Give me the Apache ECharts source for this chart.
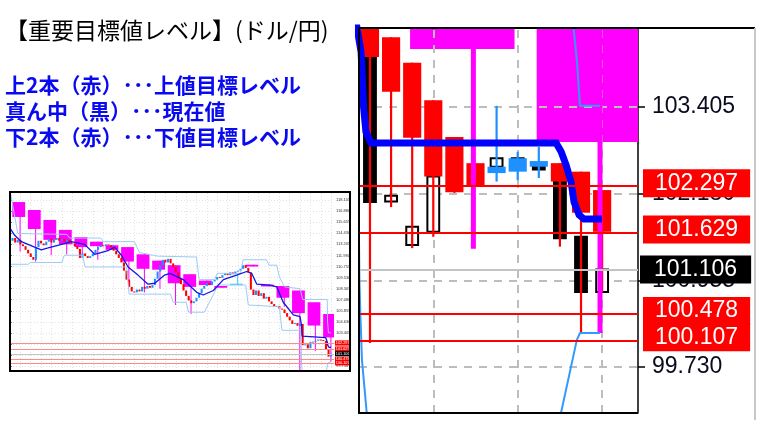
<!DOCTYPE html>
<html><head><meta charset="utf-8">
<script src="https://cdn.jsdelivr.net/npm/echarts@6/dist/echarts.min.js"></script>
<style>html,body{margin:0;padding:0;background:#fff}#c{width:763px;height:426px}</style>
</head><body><div id="c"></div>
<script>
// ---------------- data ----------------
const titleText = '【重要目標値レベル】(ドル/円)';
const noteLines = ['上2本（赤）･･･上値目標レベル', '真ん中（黒）･･･現在値', '下2本（赤）･･･下値目標レベル'];

const axisTicks = [118.105, 116.880, 115.655, 114.430, 113.205, 111.980, 110.755, 109.530,
  108.305, 107.080, 105.855, 104.630, 103.405, 102.180, 100.955, 99.730];
const upperTargets = [102.297, 101.629];
const currentPrice = 101.106;
const lowerTargets = [100.478, 100.107];

// overview chart: closing prices, bar index 0..124
const closes = [
  113.6, 113.9, 113.4, 113.7, 113.2, 113.0, 112.6, 112.2, 111.8, 111.5,
  112.9, 113.6, 113.3, 113.1, 113.5, 113.8, 113.4, 113.7, 113.9, 113.6,
  113.8, 113.5, 113.7, 113.4, 113.3, 113.0, 112.7, 111.7, 112.2, 111.9,
  111.7, 111.9, 112.2, 112.6, 112.9, 113.1, 113.0, 113.2, 113.1, 112.9,
  112.5, 112.1, 111.7, 111.2, 110.3, 109.3, 108.5, 108.0, 107.9, 108.2,
  108.0, 108.5, 108.3, 108.6, 108.4, 108.7, 109.4, 110.2, 110.9, 111.5,
  111.2, 111.6, 111.1, 110.7, 110.1, 109.4, 108.8, 108.1, 107.5, 107.0,
  106.7, 106.9, 107.3, 107.8, 108.3, 108.6, 108.9, 108.7, 109.1, 109.3,
  109.6, 109.5, 109.8, 110.0, 109.8, 110.1, 109.9, 110.2, 110.3, 110.5,
  110.9, 110.6, 110.1, 108.2, 107.6, 108.1, 107.5, 107.8, 107.2, 107.4,
  106.9, 106.6, 106.3, 106.4, 106.1, 106.0, 105.6, 105.2, 104.8, 104.4,
  104.5, 104.2, 104.4,
  102.06, 102.15, 101.71, 102.42, 102.45, 102.55, 102.68, 102.63, 102.52, 101.55, 100.79, 101.106
];

// zoomed chart: last 12 bars (index 113..124)
const zoomIndex = [113, 114, 115, 116, 117, 118, 119, 120, 121, 122, 123, 124];
const realOpen  = [104.80, 102.07, 101.455, 101.64, 102.42, 102.45, 102.56, 102.68, 102.59, 102.37, 101.57, 100.79];
const realClose = [102.06, 102.15, 101.71, 102.42, 102.45, 102.55, 102.68, 102.63, 102.52, 101.55, 100.79, 101.106];
const haOpen  = [104.80, 104.39, 104.03, 103.50, 102.98, 102.61, 102.47, 102.49, 102.56, 102.61, 102.49, 102.23];
const haClose = [104.11, 103.62, 102.97, 102.42, 102.20, 102.30, 102.56, 102.68, 102.64, 102.35, 101.91, 101.64];
const haHigh  = [104.80, 104.39, 104.03, 103.50, 102.98, 102.61, 103.42, 102.77, 102.84, 102.61, 102.49, 102.23];
const haLow   = [100.07, 101.99, 101.41, 101.57, 102.19, 102.30, 102.35, 102.37, 102.40, 101.43, 100.21, 100.79];

// daily bars (magenta boxes), start bar index
const dayStart = [1, 7, 13, 19, 25, 31, 37, 43, 49, 55, 61, 67, 73, 79, 85, 91, 97, 103, 109, 115, 121];
const dayOpen  = [117.88, 117.0, 115.9, 114.8, 114.0, 113.5, 113.1, 112.9, 112.1, 111.4, 110.9, 109.9, 109.2, 108.6, 108.80, 110.95, 108.75, 108.6, 108.1, 106.8, 105.5];
const dayClose = [116.23, 114.9, 113.7, 113.2, 112.9, 113.0, 112.6, 111.3, 110.5, 110.4, 108.9, 108.5, 108.7, 108.4, 108.85, 110.75, 108.55, 107.3, 105.6, 104.225, 102.91];
const dayHigh  = [117.88, 117.0, 115.9, 114.8, 114.0, 113.5, 113.1, 112.9, 112.1, 111.4, 110.9, 109.9, 109.2, 108.6, 109.8, 110.95, 108.75, 108.6, 108.1, 106.8, 105.5];
const dayLow   = [112.4, 111.3, 112.0, 112.1, 111.8, 111.5, 112.6, 109.05, 107.9, 108.3, 106.5, 105.5, 108.7, 108.4, 108.7, 110.75, 108.55, 106.3, 98.9, 101.40, 100.21];

// bands and moving average: [bar index, price]
const upperBand = [[0, 119.2], [3, 114.4], [22, 114.3], [23, 113.9], [35, 113.9], [36, 113.5], [48, 113.5],
  [50, 112.3], [57, 111.9], [72, 111.8], [73, 109.3], [79, 109.3], [80, 110.0], [89, 110.0], [90, 111.5],
  [99, 111.5], [100, 110.9], [103, 110.9], [104, 109.6], [106, 108.5], [112, 108.3], [113, 107.1],
  [122.5, 107.1], [122.62, 104.6], [122.81, 104.04], [122.95, 103.42], [123.9, 103.42]];
const lowerBand = [[0, 111.0], [7, 111.0], [8, 111.2], [20, 111.2], [21, 112.0], [28, 112.0], [29, 110.7],
  [45, 110.7], [46, 107.7], [62, 107.7], [63, 106.8], [68, 106.8], [69, 105.7], [75, 105.7], [79, 107.9],
  [80, 108.7], [91, 108.7], [92, 106.5], [104, 106.3], [105, 103.7], [112.4, 103.7], [112.5, 100.96],
  [112.55, 100.44], [112.62, 99.83], [112.9, 98.9], [113.2, 97.5], [121.5, 97.5], [122.05, 99.08],
  [122.8, 100.11], [122.95, 100.21], [123.9, 100.21]];
const avgLine = [[0, 115.0], [1.8, 114.2], [4.4, 113.5], [9.5, 112.9], [12.1, 112.6], [14.7, 112.8],
  [18.5, 113.1], [23.7, 113.5], [28.8, 113.2], [32.7, 112.1], [37.8, 112.5], [40.4, 112.9], [43, 112.0],
  [45.6, 110.7], [49.4, 109.8], [53.3, 108.8], [55.9, 108.9], [59.7, 109.8], [61.8, 110.0], [66.9, 109.3],
  [72.1, 107.9], [74.6, 107.6], [78.5, 108.1], [82.4, 109.3], [87.5, 109.8], [91.4, 110.2], [93.3, 110.0],
  [95.3, 108.8], [100.4, 108.7], [103, 108.5], [105.5, 106.8], [109.4, 105.4], [112, 105.2],
  [112.58, 104.18], [112.7, 103.39], [112.81, 103.05], [113.05, 102.896], [121.82, 102.896],
  [122.06, 102.77], [122.29, 102.585], [122.53, 102.345], [122.67, 102.06], [122.91, 101.88],
  [123.14, 101.82], [123.99, 101.82]];

// ---------------- build ----------------
const smallBars = closes.map((c, i) => {
  const o = i === 0 ? c : closes[i - 1];
  return [i, o, c, Math.max(o, c), Math.min(o, c)];
});
const realBars = zoomIndex.map((x, i) => [x, realOpen[i], realClose[i], Math.max(realOpen[i], realClose[i]), Math.min(realOpen[i], realClose[i])]);
const haBars = zoomIndex.map((x, i) => [x, haOpen[i], haClose[i], haHigh[i], haLow[i]]);
const dayBars = dayStart.map((s, i) => [s, dayOpen[i], dayClose[i], dayHigh[i], dayLow[i]]);

function makeCandle(cfg) {
  return function (params, api) {
    const x = api.value(0), o = api.value(1), c = api.value(2), h = api.value(3), l = api.value(4);
    const pO = api.coord([x, o]), pC = api.coord([x, c]), pH = api.coord([x, h]), pL = api.coord([x, l]);
    const w = api.size([cfg.width, 0])[0];
    const up = c >= o;
    const top = Math.min(pO[1], pC[1]);
    const hgt = Math.max(Math.abs(pO[1] - pC[1]), cfg.minH);
    const kids = [];
    if (cfg.wickW > 0 && pL[1] - pH[1] > 0.5) {
      kids.push({ type: 'line', shape: { x1: pO[0], y1: pH[1], x2: pO[0], y2: pL[1] },
        style: { stroke: up ? cfg.upWick : cfg.downWick, lineWidth: cfg.wickW } });
    }
    kids.push({ type: 'rect', shape: { x: pO[0] - w / 2, y: top, width: w, height: hgt },
      style: { fill: up ? cfg.upFill : cfg.downFill, stroke: up ? cfg.upStroke : cfg.downStroke, lineWidth: cfg.strokeW } });
    return { type: 'group', children: kids };
  };
}
function makeBox(cfg) {
  return function (params, api) {
    const s = api.value(0), o = api.value(1), c = api.value(2), h = api.value(3), l = api.value(4);
    const x0 = api.coord([s - 0.1, o])[0], x1 = api.coord([s + 4.85, o])[0], xw = api.coord([s + 2.9, o])[0];
    const yO = api.coord([s, o])[1], yC = api.coord([s, c])[1], yH = api.coord([s, h])[1], yL = api.coord([s, l])[1];
    const col = c < o ? cfg.down : cfg.up;
    const top = Math.min(yO, yC), hgt = Math.max(Math.abs(yO - yC), cfg.minH);
    const kids = [];
    if (cfg.wick && yL - yH > 0.5) kids.push({ type: 'line', shape: { x1: xw, y1: yH, x2: xw, y2: yL }, style: { stroke: col, lineWidth: cfg.wickW } });
    if (cfg.body) kids.push({ type: 'rect', shape: { x: x0, y: top, width: x1 - x0, height: hgt }, style: { fill: col } });
    return { type: 'group', children: kids };
  };
}

const smallVGrid = [];
for (let v = 0; v <= 124; v += 4) smallVGrid.push({ xAxis: v });
const bigTicks = axisTicks.filter(v => v > 99.08 && v < 104.52);

function levelLines(big) {
  const items = [];
  const lab = (v, bg, pad, dist, off) => big
    ? { show: true, position: 'end', formatter: v.toFixed(3), color: '#fff', backgroundColor: bg, fontSize: 23,
        fontFamily: 'Liberation Sans, Arial, sans-serif', padding: pad, distance: dist, lineHeight: 24, offset: off }
    : { show: true, position: 'end', formatter: v.toFixed(3), color: '#fff', backgroundColor: bg, fontSize: 3.8,
        fontFamily: 'Liberation Sans, Arial, sans-serif', padding: [0.6, 0.8], distance: 1, lineHeight: 4 };
  upperTargets.concat(lowerTargets).forEach((v, i) => items.push({ yAxis: v,
    lineStyle: { color: big ? '#ff0000' : '#ff8a8a', width: big ? 2 : 1, type: 'solid' },
    label: lab(v, '#ff0000', [2, 12, 2, 12], 5, [0, i === 0 ? -2 : -3]) }));
  items.push({ yAxis: currentPrice, lineStyle: { color: '#c4c4c4', width: big ? 2 : 1, type: 'solid' },
    label: lab(currentPrice, '#000000', [2, 14, 2, 14], 2, [0, 0]) });
  return items;
}

const option = {
  animation: false,
  backgroundColor: '#ffffff',
  grid: [
    { left: 10, top: 192, width: 324, height: 179 },
    { left: 359, top: 28, width: 279, height: 385 }
  ],
  xAxis: [
    { gridIndex: 0, type: 'value', min: 0, max: 125.1, show: false },
    { gridIndex: 1, type: 'value', min: 112.48, max: 125.70, show: false }
  ],
  yAxis: [
    { gridIndex: 0, type: 'value', min: 99.20, max: 118.99, position: 'right',
      axisLine: { show: true, lineStyle: { color: '#777', width: 1 } },
      axisTick: { show: true, customValues: axisTicks, length: 2, lineStyle: { color: '#777' } },
      axisLabel: { customValues: axisTicks, formatter: v => Number(v).toFixed(3), fontSize: 4, margin: 2, color: '#333',
        fontFamily: 'Liberation Sans, Arial, sans-serif' },
      splitLine: { show: false } },
    { gridIndex: 1, type: 'value', min: 99.08, max: 104.52, position: 'right',
      axisLine: { show: true, lineStyle: { color: '#000', width: 1.5 } },
      axisTick: { show: true, customValues: bigTicks, length: 7, lineStyle: { color: '#000', width: 1.5 } },
      axisLabel: { customValues: bigTicks, formatter: v => Number(v).toFixed(3), fontSize: 23, margin: 14,
        color: '#0a0a1e', fontFamily: 'Liberation Sans, Arial, sans-serif' },
      splitLine: { show: false } }
  ],
  series: [
    // ---- overview chart ----
    { type: 'line', xAxisIndex: 0, yAxisIndex: 0, data: [], z: 1, silent: true,
      markLine: { z: 1, silent: true, symbol: ['none', 'none'], label: { show: false }, precision: 3,
        lineStyle: { color: '#e2e2e2', width: 1, type: [1, 2] },
        data: axisTicks.map(v => ({ yAxis: v })).concat(smallVGrid) } },
    { type: 'custom', xAxisIndex: 0, yAxisIndex: 0, data: dayBars, z: 2, clip: true, silent: true,
      renderItem: makeBox({ down: '#ff00ff', up: '#33ccff', wickW: 1, minH: 1.2, body: true, wick: true }) },
    { type: 'custom', xAxisIndex: 0, yAxisIndex: 0, data: smallBars, z: 3, clip: true, silent: true,
      renderItem: makeCandle({ width: 0.8, minH: 1, wickW: 0, upFill: '#1e90ff', downFill: '#ff0000',
        upStroke: null, downStroke: null, strokeW: 0 }) },
    { type: 'line', xAxisIndex: 0, yAxisIndex: 0, data: upperBand, z: 4, symbol: 'none', silent: true,
      lineStyle: { color: '#9ccaf5', width: 1 } },
    { type: 'line', xAxisIndex: 0, yAxisIndex: 0, data: lowerBand, z: 4, symbol: 'none', silent: true,
      lineStyle: { color: '#9ccaf5', width: 1 } },
    { type: 'line', xAxisIndex: 0, yAxisIndex: 0, data: avgLine, z: 5, symbol: 'none', silent: true,
      lineStyle: { color: '#1414e6', width: 1.3 } },
    { type: 'line', xAxisIndex: 0, yAxisIndex: 0, data: [], z: 6, silent: true,
      markLine: { z: 6, silent: true, symbol: ['none', 'none'], precision: 3, data: levelLines(false) } },
    // ---- zoomed chart ----
    { type: 'custom', xAxisIndex: 1, yAxisIndex: 1, data: dayBars, z: 1, clip: true, silent: true,
      renderItem: makeBox({ down: '#ff00ff', up: '#33ccff', wickW: 5, minH: 2, body: true, wick: false }) },
    { type: 'line', xAxisIndex: 1, yAxisIndex: 1, data: [], z: 2, silent: true,
      markLine: { z: 2, silent: true, symbol: ['none', 'none'], label: { show: false }, precision: 3,
        lineStyle: { color: '#bdbdbd', width: 2, type: [8, 7] },
        data: bigTicks.map(v => ({ yAxis: v })).concat([{ xAxis: 116 }, { xAxis: 120 }, { xAxis: 124 }]) } },
    { type: 'custom', xAxisIndex: 1, yAxisIndex: 1, data: realBars, z: 3, clip: true, silent: true,
      renderItem: makeCandle({ width: 0.56, minH: 3, wickW: 0, upFill: '#ffffff', downFill: '#000000',
        upStroke: '#000000', downStroke: '#000000', strokeW: 2 }) },
    { type: 'custom', xAxisIndex: 1, yAxisIndex: 1, data: haBars, z: 4, clip: true, silent: true,
      renderItem: makeCandle({ width: 0.86, minH: 3, wickW: 2.2, upFill: '#1e90ff', downFill: '#ff0000',
        upStroke: null, downStroke: null, strokeW: 0, upWick: '#1e90ff', downWick: '#ff0000' }) },
    { type: 'custom', xAxisIndex: 1, yAxisIndex: 1, data: dayBars, z: 5, clip: true, silent: true,
      renderItem: makeBox({ down: '#ff00ff', up: '#33ccff', wickW: 5, minH: 2, body: false, wick: true }) },
    { type: 'line', xAxisIndex: 1, yAxisIndex: 1, data: upperBand, z: 6, symbol: 'none', silent: true,
      lineStyle: { color: '#3399ff', width: 2 } },
    { type: 'line', xAxisIndex: 1, yAxisIndex: 1, data: lowerBand, z: 6, symbol: 'none', silent: true,
      lineStyle: { color: '#3399ff', width: 2 } },
    { type: 'line', xAxisIndex: 1, yAxisIndex: 1, data: avgLine, z: 7, symbol: 'none', silent: true,
      lineStyle: { color: '#0000ff', width: 7, cap: 'butt', join: 'miter' } },
    { type: 'line', xAxisIndex: 1, yAxisIndex: 1, data: [], z: 8, silent: true,
      markLine: { z: 8, silent: true, symbol: ['none', 'none'], precision: 3, data: levelLines(true) } }
  ],
  graphic: [
    { type: 'text', x: 5, y: 30, z: 100, style: { text: titleText, fill: '#000', fontSize: 23,
        fontFamily: '"Noto Sans CJK JP", sans-serif', verticalAlign: 'middle' } },
    { type: 'text', x: 5, y: 85, z: 100, style: { text: noteLines[0], fill: '#0a0af0', fontSize: 21, fontWeight: 'bold',
        fontFamily: '"Noto Sans CJK JP", sans-serif', verticalAlign: 'middle' } },
    { type: 'text', x: 5, y: 111, z: 100, style: { text: noteLines[1], fill: '#0a0af0', fontSize: 21, fontWeight: 'bold',
        fontFamily: '"Noto Sans CJK JP", sans-serif', verticalAlign: 'middle' } },
    { type: 'text', x: 5, y: 137, z: 100, style: { text: noteLines[2], fill: '#0a0af0', fontSize: 21, fontWeight: 'bold',
        fontFamily: '"Noto Sans CJK JP", sans-serif', verticalAlign: 'middle' } },
    { type: 'rect', z: 100, shape: { x: 10, y: 192, width: 340, height: 179 },
      style: { fill: 'none', stroke: '#000', lineWidth: 2 } },
    { type: 'polyline', z: 100, shape: { points: [[638, 413], [359, 413], [359, 28], [755, 28]] },
      style: { fill: 'none', stroke: '#000', lineWidth: 2 } },
    { type: 'line', z: 100, shape: { x1: 755, y1: 28, x2: 755, y2: 420 },
      style: { stroke: '#c8c8c8', lineWidth: 2 } }
  ]
};
const chart = echarts.init(document.getElementById('c'), null, { renderer: 'canvas' });
chart.setOption(option);
</script>
</body></html>
